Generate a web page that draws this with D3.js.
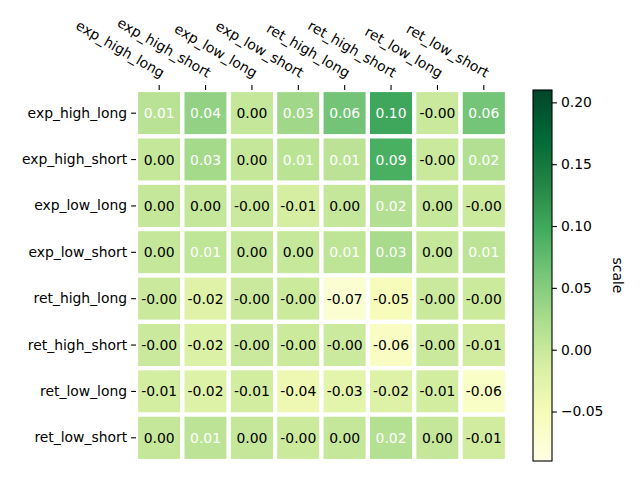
<!DOCTYPE html>
<html>
<head>
<meta charset="utf-8">
<script src="https://cdn.jsdelivr.net/npm/d3@7"></script>
<style>
  body { margin: 0; background: #fff; }
  svg { font-family: "DejaVu Sans", sans-serif; }
</style>
</head>
<body>
<div id="chart"></div>
<script>
// row / column labels
const rowLabels = ['exp_high_long', 'exp_high_short', 'exp_low_long', 'exp_low_short',
    'ret_high_long', 'ret_high_short', 'ret_low_long', 'ret_low_short'];
const colLabels = rowLabels.slice();

// values, one array per row
const expHighLong  = [0.012, 0.041, 0.003, 0.032, 0.063, 0.101, -0.002, 0.062];
const expHighShort = [0.002, 0.028, 0.002, 0.011, 0.010, 0.092, -0.002, 0.018];
const expLowLong   = [0.002, 0.003, -0.002, -0.012, 0.002, 0.018, 0.001, -0.003];
const expLowShort  = [0.003, 0.007, 0.002, 0.001, 0.008, 0.026, 0.001, 0.009];
const retHighLong  = [-0.002, -0.022, -0.002, -0.003, -0.073, -0.053, -0.002, -0.003];
const retHighShort = [-0.002, -0.018, -0.002, -0.003, -0.004, -0.062, -0.002, -0.008];
const retLowLong   = [-0.011, -0.021, -0.010, -0.041, -0.028, -0.020, -0.010, -0.064];
const retLowShort  = [0.002, 0.009, 0.002, -0.003, 0.002, 0.017, 0.002, -0.008];
const rows = [expHighLong, expHighShort, expLowLong, expLowShort,
    retHighLong, retHighShort, retLowLong, retLowShort];

// colour range and colorbar ticks
const colorDomain = [-0.09, 0.21];
const cbarTicks = [-0.05, 0, 0.05, 0.10, 0.15, 0.20];

// matplotlib YlGn
const ylgn = ['#ffffe5', '#f7fcb9', '#d9f0a3', '#addd8e', '#78c679',
    '#41ab5d', '#238443', '#006837', '#004529'];

const width = 640, height = 480;
const plot = { left: 136, top: 90, size: 371 };
const cbar = { left: 533, top: 90, width: 19, height: 371 };

const svg = d3.select('#chart').append('svg')
    .attr('width', width)
    .attr('height', height);

const x = d3.scaleBand().domain(colLabels).range([plot.left, plot.left + plot.size]);
const y = d3.scaleBand().domain(rowLabels).range([plot.top, plot.top + plot.size]);

const color = d3.scaleLinear()
    .domain(ylgn.map((_, i) => colorDomain[0] + i / (ylgn.length - 1) * (colorDomain[1] - colorDomain[0])))
    .range(ylgn)
    .clamp(true);

const cells = [];
rows.forEach((r, i) => r.forEach((v, j) => cells.push({ row: rowLabels[i], col: colLabels[j], v })));

// cells, separated by white lines
svg.append('g')
    .selectAll('rect')
    .data(cells)
    .join('rect')
    .attr('x', d => x(d.col))
    .attr('y', d => y(d.row))
    .attr('width', x.bandwidth())
    .attr('height', y.bandwidth())
    .attr('fill', d => color(d.v))
    .attr('stroke', '#fff')
    .attr('stroke-width', 4.2);

svg.append('g')
    .selectAll('text')
    .data(cells)
    .join('text')
    .attr('x', d => x(d.col) + x.bandwidth() / 2)
    .attr('y', d => y(d.row) + y.bandwidth() / 2)
    .attr('text-anchor', 'middle')
    .attr('dominant-baseline', 'central')
    .attr('font-size', '13.9px')
    .attr('fill', d => d.v >= 0.005 ? '#fff' : '#000')
    .text(d => d.v.toFixed(2));

// top axis with slanted labels
const xAxis = svg.append('g')
    .attr('transform', `translate(0,${plot.top})`)
    .call(d3.axisTop(x).tickSize(4.9).tickPadding(4));
xAxis.select('.domain').remove();
xAxis.selectAll('line').attr('stroke', '#000').attr('stroke-width', 1.1);
xAxis.selectAll('text')
    .attr('font-size', '13.9px')
    .attr('fill', '#000')
    .attr('font-family', '"DejaVu Sans", sans-serif')
    .attr('text-anchor', 'end')
    .attr('dy', '-0.25em')
    .attr('transform', function () {
        const yy = +d3.select(this).attr('y');
        return `translate(0,${yy}) rotate(30) translate(0,${-yy})`;
    });

// left axis
const yAxis = svg.append('g')
    .attr('transform', `translate(${plot.left},0)`)
    .call(d3.axisLeft(y).tickSize(4.9).tickPadding(4));
yAxis.select('.domain').remove();
yAxis.selectAll('line').attr('stroke', '#000').attr('stroke-width', 1.1);
yAxis.selectAll('text')
    .attr('font-size', '13.9px')
    .attr('fill', '#000')
    .attr('font-family', '"DejaVu Sans", sans-serif');

// colorbar
const grad = svg.append('defs').append('linearGradient')
    .attr('id', 'cbar-grad')
    .attr('x1', 0).attr('y1', 1).attr('x2', 0).attr('y2', 0);
grad.selectAll('stop')
    .data(ylgn)
    .join('stop')
    .attr('offset', (_, i) => i / (ylgn.length - 1))
    .attr('stop-color', d => d);

svg.append('rect')
    .attr('x', cbar.left)
    .attr('y', cbar.top)
    .attr('width', cbar.width)
    .attr('height', cbar.height)
    .attr('fill', 'url(#cbar-grad)')
    .attr('stroke', '#000')
    .attr('stroke-width', 1.1);

const cy = d3.scaleLinear().domain(colorDomain).range([cbar.top + cbar.height, cbar.top]);
const cAxis = svg.append('g')
    .attr('transform', `translate(${cbar.left + cbar.width},0)`)
    .call(d3.axisRight(cy).tickValues(cbarTicks).tickSize(4.9).tickPadding(4)
        .tickFormat(d => d3.format('.2f')(d).replace('-', '\u2212')));
cAxis.select('.domain').remove();
cAxis.selectAll('line').attr('stroke', '#000').attr('stroke-width', 1.1);
cAxis.selectAll('text')
    .attr('font-size', '13.9px')
    .attr('fill', '#000')
    .attr('font-family', '"DejaVu Sans", sans-serif');

svg.append('text')
    .attr('transform', `translate(613,${cbar.top + cbar.height / 2}) rotate(90)`)
    .attr('text-anchor', 'middle')
    .attr('font-size', '13.9px')
    .text('scale');
</script>
</body>
</html>
